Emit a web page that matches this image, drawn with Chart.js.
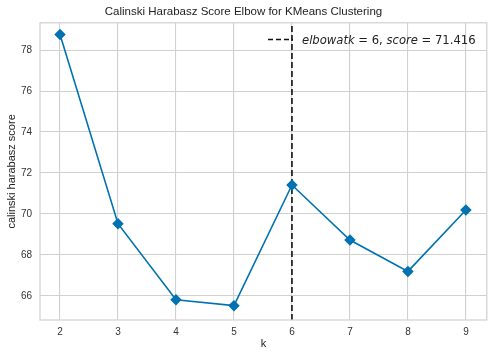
<!DOCTYPE html>
<html>
<head>
<meta charset="utf-8">
<script src="https://cdn.jsdelivr.net/npm/chart.js@4/dist/chart.umd.min.js"></script>
<style>
  html, body { margin: 0; padding: 0; background: #fff; }
  #wrap { width: 493px; height: 357px; }
</style>
</head>
<body>
<div id="wrap"><canvas id="myChart"></canvas></div>
<script>
var kValues = [2, 3, 4, 5, 6, 7, 8, 9];
var scores = [78.76, 69.53, 65.82, 65.53, 71.416, 68.73, 67.2, 70.2];
var yTicks = [66, 68, 70, 72, 74, 76, 78];
var elbowK = 6;
var elbowScore = 71.416;
var yMin = 64.83, yMax = 79.33;
var xMin = 1.655, xMax = 9.36;

var lineColor = "#0072b2";
var gridColor = "#d0d0d0";

// frame + dashed-line legend, drawn like matplotlib
var extras = {
  id: "extras",
  afterDraw: function(chart) {
    var ctx = chart.ctx, a = chart.chartArea;
    ctx.save();
    ctx.strokeStyle = gridColor;
    ctx.lineWidth = 1.2;
    ctx.strokeRect(a.left, a.top, a.right - a.left, a.bottom - a.top);

    // legend handle
    ctx.strokeStyle = "#111";
    ctx.lineWidth = 1.5;
    ctx.setLineDash([5, 3]);
    ctx.beginPath();
    ctx.moveTo(268, 39.5);
    ctx.lineTo(293, 39.5);
    ctx.stroke();
    ctx.setLineDash([]);

    // legend text, mathtext style
    var parts = [
      ["italic", "elbowatk"],
      ["normal", " = 6, "],
      ["italic", "score"],
      ["normal", " = " + elbowScore.toFixed(3)]
    ];
    var x = 302, y = 44;
    ctx.fillStyle = "#222";
    ctx.textBaseline = "alphabetic";
    parts.forEach(function(p) {
      ctx.font = p[0] + " 11.6px 'DejaVu Sans'";
      ctx.fillText(p[1], x, y);
      x += ctx.measureText(p[1]).width;
    });
    ctx.restore();
  }
};

new Chart("myChart", {
  type: "scatter",
  data: {
    datasets: [{
      data: kValues.map(function(k, i) { return {x: k, y: scores[i]}; }),
      showLine: true,
      borderColor: lineColor,
      backgroundColor: lineColor,
      borderWidth: 1.6,
      pointStyle: "rectRot",
      pointRadius: 4.6,
      pointHoverRadius: 4.6
    }, {
      data: [{x: elbowK, y: yMin}, {x: elbowK, y: yMax}],
      showLine: true,
      borderColor: "#111",
      borderWidth: 1.6,
      borderDash: [6, 3],
      pointRadius: 0
    }]
  },
  plugins: [extras],
  options: {
    responsive: true,
    maintainAspectRatio: false,
    animation: false,
    layout: { padding: { left: 0, right: 6, top: 0, bottom: 0 } },
    plugins: {
      legend: { display: false },
      tooltip: { enabled: false },
      title: {
        display: true,
        text: "Calinski Harabasz Score Elbow for KMeans Clustering",
        color: "#222",
        font: { family: "'Liberation Sans', Arial", size: 11.5, weight: "normal" },
        padding: { top: 5, bottom: 4 }
      }
    },
    scales: {
      x: {
        type: "linear",
        min: xMin,
        max: xMax,
        afterBuildTicks: function(s) { s.ticks = kValues.map(function(v) { return {value: v}; }); },
        afterFit: function(s) { s.height = 37; },
        grid: { color: gridColor, lineWidth: 1.1, drawTicks: false },
        border: { display: false },
        ticks: { color: "#333", padding: 6, font: { family: "'Liberation Sans', Arial", size: 10 } },
        title: { display: true, text: "k", color: "#222", padding: { top: 0, bottom: 6 },
                 font: { family: "'Liberation Sans', Arial", size: 11 } }
      },
      y: {
        min: yMin,
        max: yMax,
        afterBuildTicks: function(s) { s.ticks = yTicks.map(function(v) { return {value: v}; }); },
        afterFit: function(s) { s.width = 40; },
        grid: { color: gridColor, lineWidth: 1.1, drawTicks: false },
        border: { display: false },
        ticks: { color: "#333", padding: 8, font: { family: "'Liberation Sans', Arial", size: 10 } },
        title: { display: true, text: "calinski harabasz score", color: "#222", padding: { top: 5, bottom: 0 },
                 font: { family: "'Liberation Sans', Arial", size: 11 } }
      }
    }
  }
});
</script>
</body>
</html>
